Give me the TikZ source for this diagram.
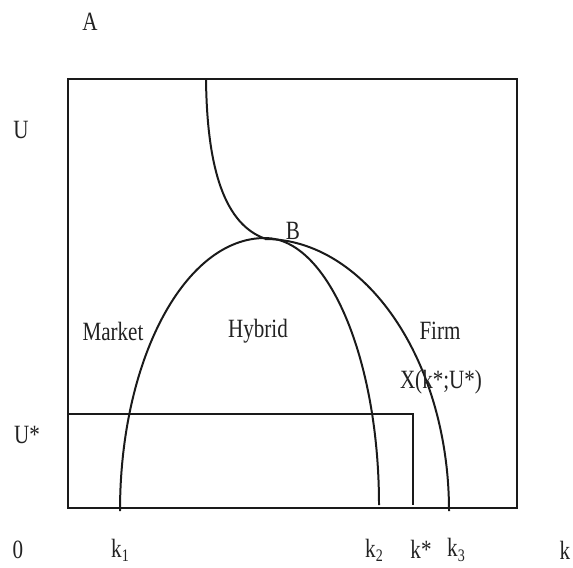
\documentclass[tikz,border=0pt]{standalone}
\usepackage{fontspec}
\setmainfont[FakeStretch=0.8]{Liberation Serif}
\usetikzlibrary{positioning}
\definecolor{inkline}{HTML}{1A1A1A}
\definecolor{inktext}{HTML}{222222}
\newcommand{\lowidx}[1]{\raisebox{-0.35ex}{\fontsize{15}{15}\selectfont #1}}

\begin{document}
\begin{tikzpicture}[x=0.03cm, y=-0.03cm,
    every node/.style={font=\fontsize{22.5}{24}\selectfont, text=inktext, inner sep=0pt},
    frame/.style={draw=inkline, line width=2pt},
    curve/.style={draw=inkline, line width=1.7pt}]
  \useasboundingbox (0,0) rectangle (573,567);

  % --- Frame ---
  \draw[frame] (68,79) rectangle (517,508);

  % --- Indifference curve down to B ---
  \draw[curve] (206,79) .. controls (207,170) and (225,225) .. (266,239);

  % --- Market / hybrid arc (k1 to k2) ---
  \draw[curve] (120,511) .. controls (120,359) and (185,238) .. (265,238)
                         .. controls (328,238) and (379,359) .. (379,505);

  % --- Firm arc (B to k3) ---
  \draw[curve] (265,239) .. controls (365,239) and (449,360) .. (449,511);

  % --- U* and k* ---
  \coordinate (Xpt) at (413,414);
  \draw[curve] (68,414) -- (Xpt) -- (413,505);

  % --- Labels ---
  \node (lblA) at (90,22) {A};
  \node (lblU) at (21,130) {U};
  \node (lblUstar) at (27,435) {U*};
  \node (origin) at (18,550) {0};
  \node (lblkone) at (120,550) {k\lowidx{1}};
  \node (lblktwo) at (374,550) {k\lowidx{2}};
  \node (lblkstar) at (421,549) {k*};
  \node (lblkthree) at (456,550) {k\lowidx{3}};
  \node (lblk) at (565,550) {k};
  \node (ptB) at (293,231) {B};
  \node (market) at (113,331) {Market};
  \node (hybrid) at (258,331) {Hybrid};
  \node (firm) at (440,331) {Firm};
  \node (ptX) at (441,382) {X(k*;U*)};
\end{tikzpicture}
\end{document}
